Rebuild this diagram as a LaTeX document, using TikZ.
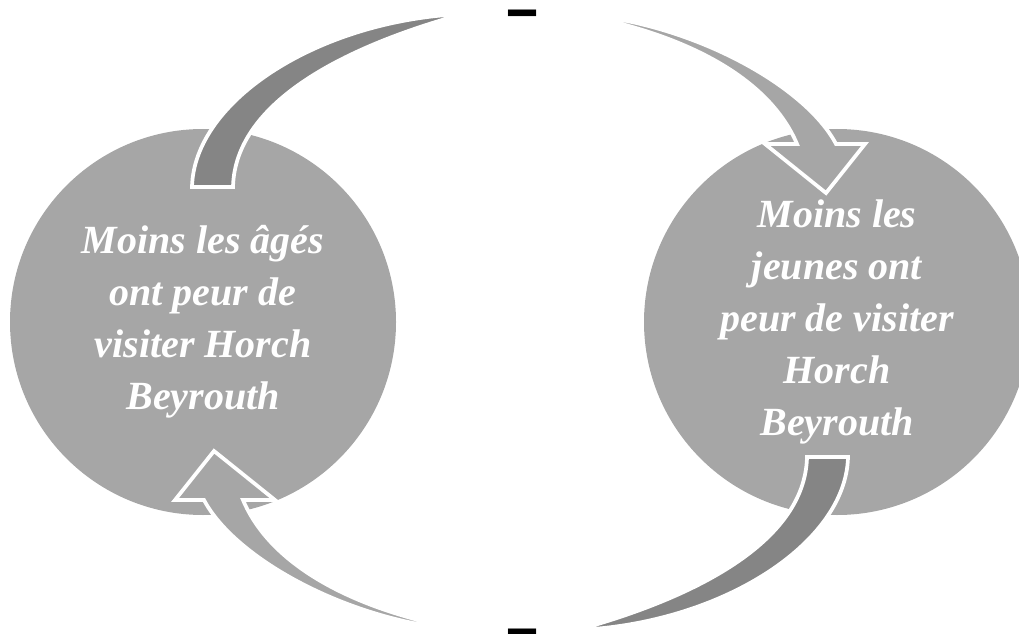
\documentclass[tikz,border=0pt]{standalone}
\usepackage{fontspec}
\setmainfont{Liberation Serif}
\definecolor{circgray}{HTML}{A6A6A6}
\definecolor{bandgray}{HTML}{858585}
\tikzset{
  bubble/.style={circle, fill=circgray, minimum size=289.5pt, inner sep=0pt, text=white, align=center,
    font=\fontsize{30}{39}\selectfont\bfseries\itshape},
  band/.style={fill=bandgray, draw=white, line width=2.8pt, line join=miter},
  flow/.style={fill=circgray, draw=white, line width=2.8pt, line join=miter},
  sign/.style={anchor=base, inner sep=0pt, font=\fontsize{58}{58}\selectfont\bfseries}
}
\begin{document}
\begin{tikzpicture}[x=0.75pt, y=-0.75pt]
\clip (0,0) rectangle (1019,634);

% the two circles
\node[bubble] (older) at (203,322) {Moins les âgés\\ont peur de\\visiter Horch\\Beyrouth};
\node[bubble] (younger) at (837,322) {Moins les\\jeunes ont\\peur de visiter\\Horch\\Beyrouth};

% curved arrows, the lower pair is the upper pair turned half round
\foreach \ang in {0,180}{
  \begin{scope}[rotate around={\ang:(520,322)}]
    \draw[band] (192,187) .. controls (194,100) and (320,20) .. (463,14)
      .. controls (350,45) and (235,100) .. (233,187) -- cycle;
    \draw[flow] (577,14) .. controls (690,22) and (805,85) .. (836,144)
      -- (865,144) -- (826,193) -- (765,144) -- (797,144)
      .. controls (770,80) and (690,35) .. (577,14) -- cycle;
  \end{scope}
}

% signs
\node[sign] (topsign) at (523,32) {\scalebox{1.4}[1]{-}};
\node[sign] (botsign) at (523,650) {\scalebox{1.4}[1]{-}};

\end{tikzpicture}
\end{document}
